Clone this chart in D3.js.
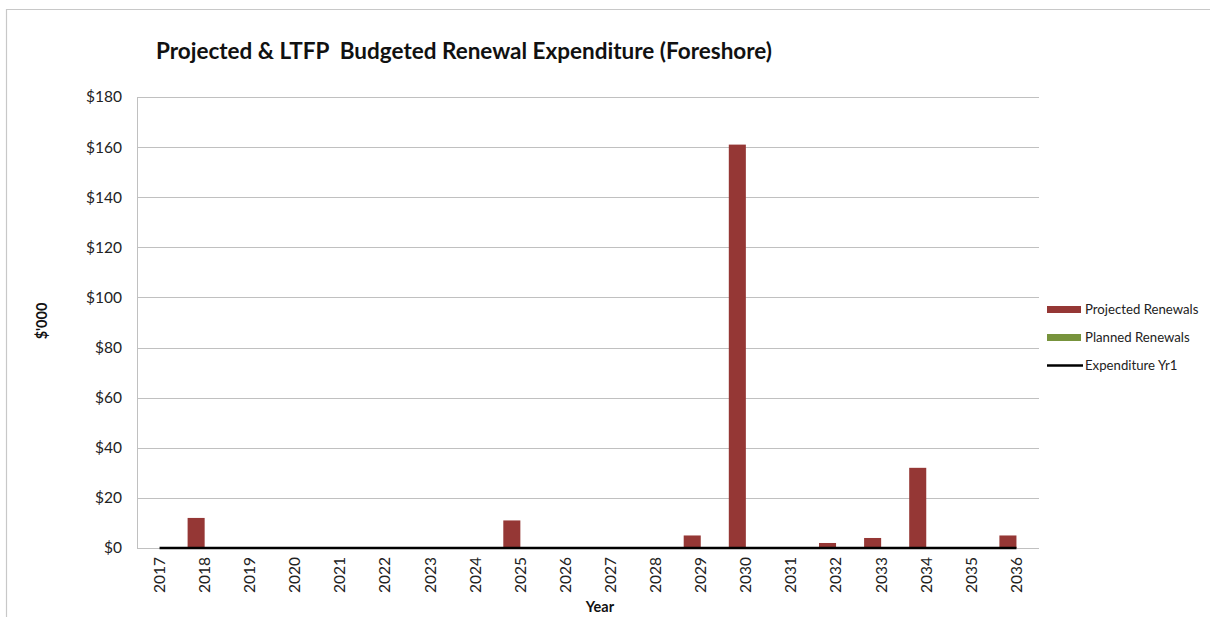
<!DOCTYPE html>
<html>
<head>
<meta charset="utf-8">
<script src="https://cdn.jsdelivr.net/npm/d3@7"></script>
<style>
  html, body { margin: 0; padding: 0; background: #fff; }
  svg { display: block; font-family: Lato, "Open Sans", sans-serif; }
</style>
</head>
<body>
<svg id="chart" width="1210" height="617"></svg>
<script>
// Renewal expenditure by year ($'000)
const years = ["2017","2018","2019","2020","2021","2022","2023","2024","2025","2026",
               "2027","2028","2029","2030","2031","2032","2033","2034","2035","2036"];
const projectedRenewals = [0,12,0,0,0,0,0,0,11,0,0,0,5,161,0,2,4,32,0,5];
const plannedRenewals   = [0,0,0,0,0,0,0,0,0,0,0,0,0,0,0,0,0,0,0,0];
const expenditureYr1    = [0,0,0,0,0,0,0,0,0,0,0,0,0,0,0,0,0,0,0,0];
const yTicks = [0,20,40,60,80,100,120,140,160,180];
const seriesNames = ["Projected Renewals","Planned Renewals","Expenditure Yr1"];
const colors = { projected: "#953735", planned: "#77933c", line: "#000000" };

const svg = d3.select("#chart");
const margin = { left: 137, right: 1039, top: 97, bottom: 548 };

// Frame
svg.append("path")
  .attr("d", "M6.5,617 L6.5,9.5 L1210,9.5")
  .attr("fill", "none").attr("stroke", "#c8c8c8").attr("stroke-width", 1.2);

const x = d3.scaleBand().domain(years).range([margin.left, margin.right]).paddingInner(0).paddingOuter(0);
const y = d3.scaleLinear().domain([0, 180]).range([margin.bottom, margin.top]);

// Gridlines
svg.append("g").selectAll("line").data(yTicks).join("line")
  .attr("x1", margin.left).attr("x2", margin.right)
  .attr("y1", d => Math.round(y(d)) + 0.5).attr("y2", d => Math.round(y(d)) + 0.5)
  .attr("stroke", "#c0c0c0").attr("stroke-width", 1);

// Left axis line
svg.append("line")
  .attr("x1", margin.left + 0.5).attr("x2", margin.left + 0.5)
  .attr("y1", margin.top).attr("y2", margin.bottom + 1)
  .attr("stroke", "#c0c0c0");

// Y tick labels
const yAxis = d3.axisLeft(y).tickValues(yTicks).tickFormat(d => "$" + d).tickSize(0).tickPadding(15);
const gy = svg.append("g").attr("transform", `translate(${margin.left},0)`).call(yAxis);
gy.select(".domain").remove();
gy.selectAll("text").attr("font-size", 15.5).attr("fill", "#222").attr("font-family", "Lato, sans-serif");

// Bars: clustered, projected left of centre, planned right
const gap = 5.5;
const inner = d3.scaleBand().domain(["projected","planned"]).range([gap, x.bandwidth() - gap]);
const barG = svg.append("g");
barG.selectAll("rect.proj").data(years).join("rect")
  .attr("class", "proj")
  .attr("x", (d) => x(d) + inner("projected"))
  .attr("width", inner.bandwidth())
  .attr("y", (d, i) => y(projectedRenewals[i]))
  .attr("height", (d, i) => y(0) - y(projectedRenewals[i]))
  .attr("fill", colors.projected);
barG.selectAll("rect.plan").data(years).join("rect")
  .attr("class", "plan")
  .attr("x", (d) => x(d) + inner("planned"))
  .attr("width", inner.bandwidth())
  .attr("y", (d, i) => y(plannedRenewals[i]))
  .attr("height", (d, i) => y(0) - y(plannedRenewals[i]))
  .attr("fill", colors.planned);

// Expenditure line
const line = d3.line()
  .x((d, i) => x(years[i]) + x.bandwidth() / 2)
  .y(d => y(d));
svg.append("path").datum(expenditureYr1)
  .attr("d", line).attr("fill", "none")
  .attr("stroke", colors.line).attr("stroke-width", 2.5);

// X tick labels (rotated)
const xAxis = d3.axisBottom(x).tickSize(0).tickPadding(0);
const gx = svg.append("g").attr("transform", `translate(0,${margin.bottom})`).call(xAxis);
gx.select(".domain").remove();
gx.selectAll("text")
  .attr("transform", "rotate(-90)")
  .attr("x", -9).attr("y", 0).attr("dy", "0.35em")
  .attr("text-anchor", "end")
  .attr("font-size", 15.5).attr("fill", "#222")
  .attr("font-family", "Lato, sans-serif");

// Title
svg.append("text")
  .attr("x", 156).attr("y", 59)
  .attr("font-size", 22.5).attr("font-weight", "bold").attr("fill", "#111")
  .style("white-space", "pre")
  .text("Projected & LTFP  Budgeted Renewal Expenditure (Foreshore)");

// Axis titles
svg.append("text")
  .attr("x", 600).attr("y", 612).attr("text-anchor", "middle")
  .attr("font-size", 14.5).attr("font-weight", "bold").attr("fill", "#111")
  .text("Year");
svg.append("text")
  .attr("transform", "translate(47,321) rotate(-90)").attr("text-anchor", "middle")
  .attr("font-size", 14.5).attr("font-weight", "bold").attr("fill", "#111")
  .text("$'000");

// Legend
const legend = svg.append("g").attr("transform", "translate(1047,309)");
const items = legend.selectAll("g").data(seriesNames).join("g")
  .attr("transform", (d, i) => `translate(0,${i * 28})`);
items.each(function(d, i) {
  const g = d3.select(this);
  if (i < 2) {
    g.append("rect").attr("x", 0).attr("y", -3).attr("width", 34).attr("height", 7)
      .attr("fill", i === 0 ? colors.projected : colors.planned);
  } else {
    g.append("line").attr("x1", 0).attr("x2", 36).attr("y1", 0.5).attr("y2", 0.5)
      .attr("stroke", colors.line).attr("stroke-width", 2.5);
  }
  g.append("text").attr("x", 38).attr("y", 0).attr("dy", "0.35em")
    .attr("font-size", 13.2).attr("fill", "#222").text(d);
});
</script>
</body>
</html>
